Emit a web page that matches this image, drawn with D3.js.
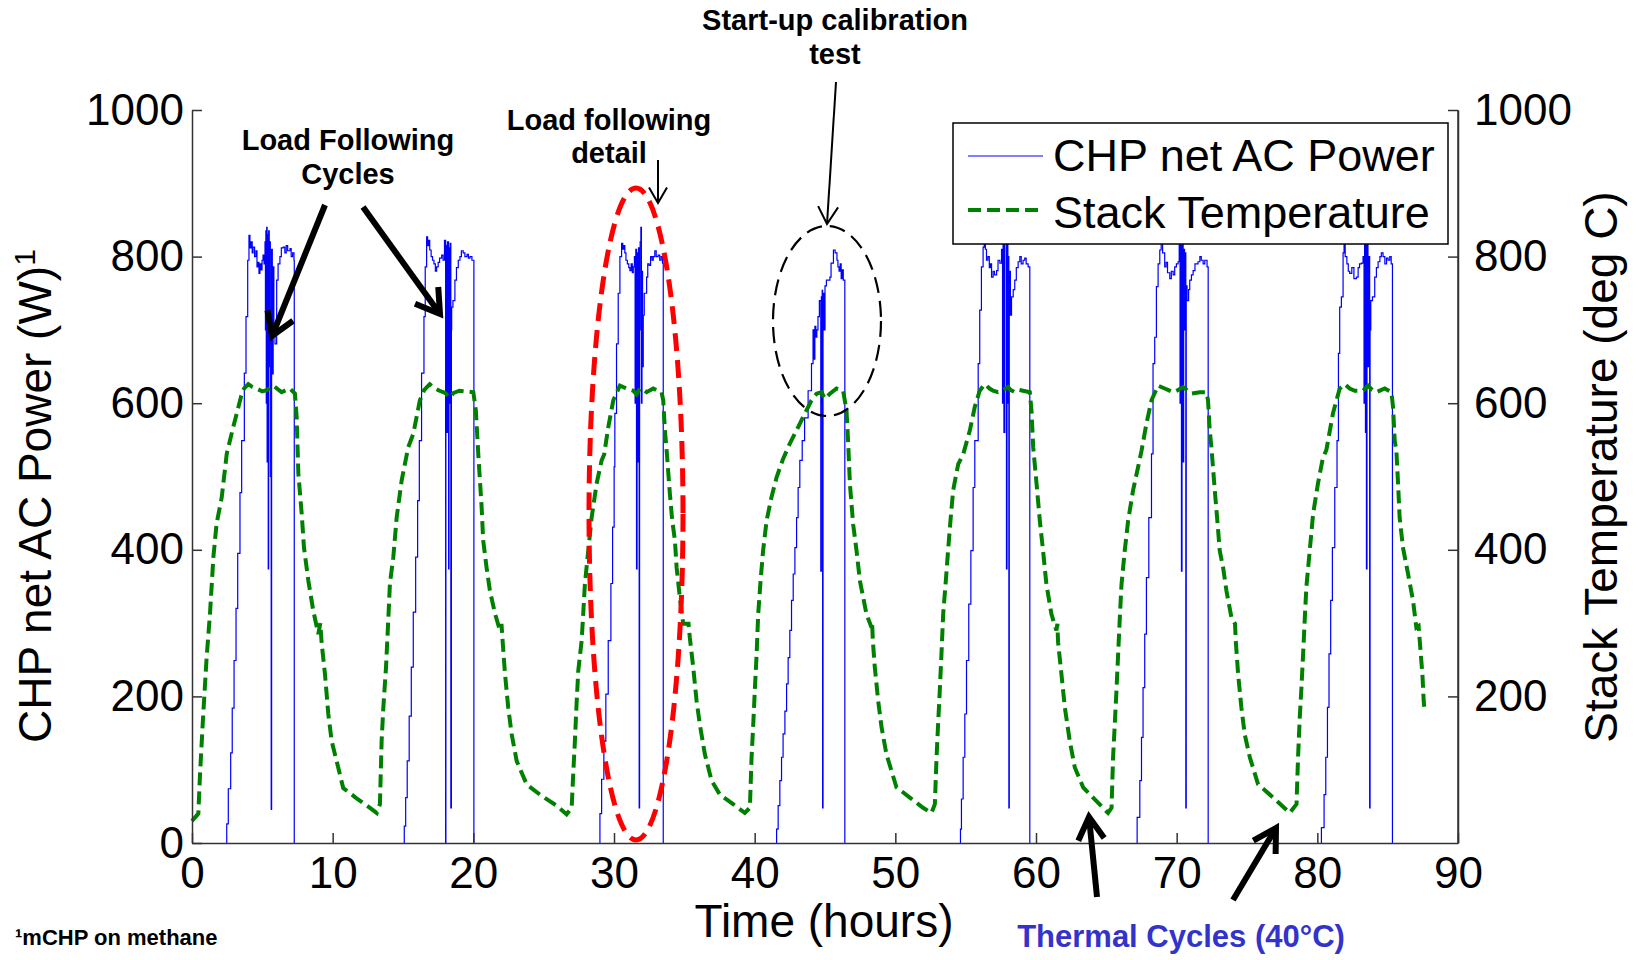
<!DOCTYPE html>
<html>
<head>
<meta charset="utf-8">
<script src="https://d3js.org/d3.v7.min.js"></script>
<style>
  body { margin: 0; background: #fff; }
  svg { font-family: "Liberation Sans", Arial, Helvetica, sans-serif; }
  .ann { font-weight: bold; }
</style>
</head>
<body>
<svg width="1641" height="960"></svg>
<script>
// ---- data (time in hours, power in W) ----
var powerC1 = [[2.47,0],[2.47,26],[2.58,74],[2.75,123],[2.86,184],[2.99,249],[3.13,320],[3.25,395],[3.41,478],[3.53,549],[3.72,641],[3.84,718],[3.96,795],[4.05,829],[4.12,812],[4.2,820],[4.28,805],[4.34,813],[4.45,800],[4.55,808],[4.62,786],[4.69,792],[4.76,777],[4.83,790],[4.9,782],[4.98,795],[5.05,802],[5.12,790],[5.19,820],[5.22,700],[5.25,835],[5.28,600],[5.31,840],[5.34,520],[5.37,830],[5.42,374],[5.45,835],[5.49,650],[5.53,820],[5.57,500],[5.63,46],[5.66,810],[5.71,640],[5.77,786],[5.82,690],[5.9,681],[6.02,768],[6.12,790],[6.25,800],[6.35,812],[6.49,813],[6.6,805],[6.7,815],[6.8,808],[6.97,811],[7.05,800],[7.15,805],[7.25,795],[7.27,0]];
var powerC2 = [[15.09,0],[15.09,23],[15.19,62],[15.3,112],[15.44,173],[15.59,240],[15.73,315],[15.9,390],[16.04,467],[16.16,549],[16.32,641],[16.49,718],[16.58,786],[16.68,827],[16.75,815],[16.82,822],[16.9,809],[17.0,800],[17.1,795],[17.2,790],[17.3,780],[17.39,786],[17.5,792],[17.6,798],[17.75,802],[17.85,795],[17.95,822],[18.03,0],[18.05,815],[18.12,560],[18.16,820],[18.24,374],[18.27,812],[18.32,600],[18.36,818],[18.4,48],[18.44,700],[18.46,731],[18.55,740],[18.69,768],[18.8,785],[18.93,795],[19.05,800],[19.15,808],[19.28,805],[19.4,800],[19.55,803],[19.65,798],[19.76,800],[19.9,795],[20.04,0]];
var powerC3 = [[29.0,0],[29.0,40],[29.12,87],[29.28,139],[29.42,203],[29.59,276],[29.78,354],[29.9,431],[30.01,513],[30.06,586],[30.18,681],[30.3,750],[30.42,800],[30.54,818],[30.62,810],[30.7,815],[30.77,805],[30.85,795],[30.95,790],[31.05,785],[31.13,781],[31.22,790],[31.3,778],[31.37,786],[31.45,800],[31.5,600],[31.55,810],[31.6,374],[31.64,805],[31.7,520],[31.74,812],[31.79,48],[31.82,700],[31.86,820],[31.91,840],[31.95,600],[31.99,780],[32.03,650],[32.08,720],[32.15,750],[32.32,772],[32.4,790],[32.5,788],[32.6,800],[32.7,795],[32.79,800],[32.9,808],[33.0,800],[33.14,802],[33.25,795],[33.35,800],[33.45,791],[33.5,0]];
var powerC4 = [[41.56,0],[41.56,19],[41.67,51],[41.79,85],[41.91,117],[42.02,149],[42.15,180],[42.27,217],[42.38,253],[42.5,290],[42.62,331],[42.74,367],[42.86,403],[42.98,444],[43.09,485],[43.21,522],[43.38,549],[43.55,580],[43.8,617],[44.04,654],[44.15,700],[44.22,660],[44.28,705],[44.35,690],[44.42,700],[44.5,718],[44.6,740],[44.7,371],[44.74,745],[44.78,600],[44.8,754],[44.83,48],[44.86,750],[44.92,700],[45.0,760],[45.1,768],[45.35,772],[45.43,791],[45.6,809],[45.72,805],[45.85,795],[45.92,786],[46.0,780],[46.08,790],[46.15,770],[46.22,782],[46.3,768],[46.41,0]];
var powerC5 = [[54.63,0],[54.63,19],[54.7,60],[54.82,117],[54.94,176],[55.06,249],[55.22,326],[55.37,399],[55.53,485],[55.65,549],[55.89,654],[56.0,727],[56.12,786],[56.24,813],[56.32,825],[56.4,810],[56.48,795],[56.58,800],[56.68,785],[56.76,790],[56.84,772],[56.95,780],[57.05,775],[57.2,781],[57.3,795],[57.43,791],[57.55,810],[57.62,600],[57.66,830],[57.72,560],[57.78,820],[57.9,374],[57.94,820],[58.0,600],[58.03,800],[58.07,48],[58.1,780],[58.18,720],[58.26,745],[58.38,755],[58.49,768],[58.6,785],[58.73,793],[58.85,800],[58.95,790],[59.08,795],[59.2,798],[59.3,790],[59.44,786],[59.56,0]];
var powerC6 = [[67.19,0],[67.19,35],[67.38,85],[67.5,144],[67.61,212],[67.73,285],[67.85,362],[68.02,444],[68.21,531],[68.32,654],[68.44,690],[68.56,759],[68.68,790],[68.8,809],[68.9,820],[69.0,805],[69.15,786],[69.25,792],[69.35,778],[69.51,770],[69.62,780],[69.75,775],[69.86,786],[69.98,790],[70.1,793],[70.18,820],[70.24,600],[70.28,815],[70.34,371],[70.38,830],[70.46,520],[70.5,810],[70.56,700],[70.6,805],[70.65,48],[70.68,760],[70.74,740],[70.85,755],[70.93,768],[71.05,775],[71.17,781],[71.3,790],[71.52,793],[71.65,800],[71.75,795],[71.88,790],[72.0,795],[72.16,786],[72.24,0]];
var powerC7 = [[80.29,0],[80.29,21],[80.48,66],[80.6,117],[80.72,185],[80.83,258],[80.95,331],[81.07,403],[81.24,485],[81.4,549],[81.5,668],[81.59,731],[81.71,745],[81.83,805],[81.9,818],[81.98,800],[82.1,790],[82.2,780],[82.3,777],[82.45,785],[82.6,770],[82.78,772],[82.9,785],[83.0,790],[83.13,791],[83.25,800],[83.32,600],[83.36,820],[83.42,560],[83.46,815],[83.49,374],[83.53,830],[83.6,650],[83.64,800],[83.72,48],[83.75,700],[83.8,740],[83.92,745],[84.08,772],[84.2,785],[84.32,793],[84.45,800],[84.55,805],[84.67,800],[84.8,790],[84.92,798],[85.03,795],[85.15,800],[85.25,790],[85.34,0]];
var powerCycles = [powerC1, powerC2, powerC3, powerC4, powerC5, powerC6, powerC7];

// stack temperature (deg C)
var stackTemp = [[0,30],[0.45,40],[0.57,94],[0.8,176],[1.04,253],[1.28,313],[1.52,390],[1.75,436],[2.11,471],[2.47,531],[2.9,565],[3.18,586],[3.5,610],[3.7,620],[4.0,626],[4.3,622],[4.6,620],[5.0,616],[5.19,617],[5.5,620],[5.78,624],[6.1,619],[6.37,615],[6.7,618],[6.97,620],[7.32,613],[7.44,581],[7.56,504],[7.8,449],[7.96,403],[8.27,358],[8.62,317],[8.98,285],[9.12,300],[9.22,272],[9.45,231],[9.69,176],[9.93,139],[10.28,112],[10.75,75],[11.7,61],[12.65,48],[13.13,41],[13.36,53],[13.48,139],[13.6,184],[13.79,239],[13.96,307],[14.07,354],[14.31,390],[14.55,444],[14.9,494],[15.37,540],[15.73,558],[16.2,604],[16.5,618],[16.9,626],[17.3,620],[17.6,617],[18.0,614],[18.3,608],[18.6,614],[19.0,617],[19.5,616],[20.0,615],[20.18,590],[20.35,531],[20.59,458],[20.7,413],[20.94,376],[21.18,344],[21.54,313],[21.89,290],[22.0,299],[22.08,276],[22.25,231],[22.48,185],[22.72,149],[23.08,112],[23.79,80],[24.73,66],[25.92,51],[26.63,39],[26.99,48],[27.1,94],[27.22,139],[27.34,190],[27.46,235],[27.7,276],[27.81,312],[27.93,353],[28.17,399],[28.41,444],[28.76,490],[29.12,522],[29.3,530],[29.59,567],[29.95,604],[30.42,624],[30.9,620],[31.37,617],[31.6,612],[31.84,620],[32.1,618],[32.32,615],[32.79,620],[33.1,617],[33.38,615],[33.5,604],[33.62,563],[33.74,536],[33.97,477],[34.14,440],[34.33,413],[34.45,376],[34.68,335],[34.92,299],[35.3,299],[35.39,280],[35.63,240],[35.87,194],[36.1,162],[36.46,121],[36.94,85],[37.53,66],[38.47,53],[39.3,41],[39.66,48],[39.78,117],[39.9,162],[40.01,208],[40.14,258],[40.25,312],[40.42,358],[40.6,399],[40.85,440],[41.2,472],[41.56,499],[42.02,524],[42.5,545],[42.98,563],[43.57,586],[44.04,604],[44.4,613],[44.75,615],[44.99,606],[45.2,610],[45.35,613],[45.82,620],[46.29,617],[46.53,590],[46.65,545],[46.77,490],[47.0,435],[47.24,399],[47.48,358],[47.95,312],[48.31,294],[48.35,301],[48.4,276],[48.54,240],[48.78,194],[49.02,158],[49.37,121],[50.08,76],[51.03,62],[51.97,48],[52.57,41],[52.81,53],[52.93,117],[53.04,162],[53.16,208],[53.28,258],[53.4,312],[53.59,358],[53.75,399],[53.92,440],[54.11,481],[54.47,517],[54.82,530],[55.3,563],[55.65,595],[56.0,617],[56.36,626],[56.7,620],[56.95,617],[57.3,615],[57.55,617],[58.02,622],[58.2,618],[58.49,615],[58.8,618],[59.08,617],[59.56,615],[59.68,590],[59.8,540],[60.04,490],[60.27,440],[60.5,399],[60.74,353],[61.1,312],[61.45,290],[61.52,299],[61.57,274],[61.81,230],[62.05,185],[62.4,139],[62.76,103],[63.35,76],[64.3,57],[65.12,41],[65.37,48],[65.48,117],[65.6,162],[65.72,208],[65.84,258],[65.96,308],[66.08,353],[66.31,399],[66.55,440],[66.9,481],[67.26,513],[67.5,535],[67.85,572],[68.21,604],[68.68,624],[69.15,620],[69.75,615],[70.1,618],[70.46,622],[70.8,617],[71.05,613],[71.64,615],[72.12,615],[72.23,604],[72.35,563],[72.47,540],[72.71,481],[72.83,454],[72.95,426],[73.06,399],[73.3,376],[73.54,344],[73.89,308],[74.15,299],[74.2,276],[74.37,230],[74.6,185],[74.84,148],[75.2,117],[75.79,80],[76.86,62],[78.04,41],[78.52,53],[78.63,117],[78.75,171],[78.87,212],[78.99,258],[79.1,303],[79.22,349],[79.46,399],[79.7,449],[80.04,490],[80.4,526],[80.64,536],[81.11,586],[81.59,620],[81.95,626],[82.3,620],[82.66,617],[83.25,617],[83.6,624],[83.9,618],[84.2,615],[84.79,620],[85.27,615],[85.38,595],[85.5,549],[85.62,535],[85.74,490],[85.85,444],[86.09,403],[86.45,367],[86.8,331],[87.04,294],[87.2,296],[87.28,276],[87.47,230],[87.56,194],[87.63,180]];

var xTicks = [0, 10, 20, 30, 40, 50, 60, 70, 80, 90];
var leftTicks = [0, 200, 400, 600, 800, 1000];
var rightTicks = [200, 400, 600, 800, 1000];

var svg = d3.select("svg");
var fontAxis = "44px";
var fmt = d3.format("d");

var x = d3.scaleLinear().domain([0, 90]).range([192, 1458]);
var y = d3.scaleLinear().domain([0, 1000]).range([843, 110]);   // power
var y2 = d3.scaleLinear().domain([0, 1000]).range([843, 110]);  // temperature

// power lines (blue)
var powerLine = d3.line()
    .x(function(d) { return x(d[0]); })
    .y(function(d) { return y(d[1]); })
    .curve(d3.curveStepAfter);

svg.append("g").selectAll("path")
  .data(powerCycles)
  .enter().append("path")
    .attr("d", powerLine)
    .attr("fill", "none")
    .attr("stroke", "#0000ff")
    .attr("stroke-width", 1.2);

// stack temperature (green dashed)
var tempLine = d3.line()
    .x(function(d) { return x(d[0]); })
    .y(function(d) { return y2(d[1]); });

svg.append("path")
  .datum(stackTemp)
  .attr("d", tempLine)
  .attr("fill", "none")
  .attr("stroke", "#008000")
  .attr("stroke-width", 4)
  .attr("stroke-dasharray", "13,6");

// axes
function styleAxis(g) {
  g.selectAll("path.domain").attr("stroke", "#333").attr("stroke-width", 1.5);
  g.selectAll(".tick line").attr("stroke", "#333").attr("stroke-width", 1.5);
  g.selectAll("text").style("font-size", fontAxis).style("font-family", "Liberation Sans, Arial, sans-serif").attr("fill", "#000");
}

svg.append("g")
  .attr("transform", "translate(0,843)")
  .call(d3.axisBottom(x).tickValues(xTicks).tickFormat(fmt).tickSize(-10).tickSizeOuter(0).tickPadding(14))
  .call(styleAxis);

svg.append("g")
  .attr("transform", "translate(192,0)")
  .call(d3.axisLeft(y).tickValues(leftTicks).tickFormat(fmt).tickSize(-10).tickSizeOuter(0).tickPadding(8))
  .call(styleAxis);

svg.append("g")
  .attr("transform", "translate(1458,0)")
  .call(d3.axisRight(y2).tickValues(rightTicks).tickFormat(fmt).tickSize(-10).tickSizeOuter(0).tickPadding(16))
  .call(styleAxis);
// right axis line down to the x axis
svg.append("line").attr("x1", 1458).attr("x2", 1458).attr("y1", 110).attr("y2", 843)
  .attr("stroke", "#333").attr("stroke-width", 1.5);

// axis titles
svg.append("text")
  .attr("transform", "translate(51,743) rotate(-90)")
  .style("font-size", "46px")
  .text("CHP net AC Power (W)")
  .append("tspan").attr("dy", -16).style("font-size", "30px").text("1");

svg.append("text")
  .attr("transform", "translate(1617,467) rotate(-90)")
  .attr("text-anchor", "middle")
  .style("font-size", "46px")
  .text("Stack Temperature (deg C)");

svg.append("text")
  .attr("x", 824).attr("y", 937)
  .attr("text-anchor", "middle")
  .style("font-size", "46px")
  .text("Time (hours)");

// ellipses
svg.append("ellipse")
  .attr("cx", 636).attr("cy", 514).attr("rx", 47).attr("ry", 326)
  .attr("fill", "none").attr("stroke", "#ff0000").attr("stroke-width", 5)
  .attr("stroke-dasharray", "18,9");

svg.append("ellipse")
  .attr("cx", 827).attr("cy", 321).attr("rx", 54).attr("ry", 95)
  .attr("fill", "none").attr("stroke", "#000").attr("stroke-width", 2.2)
  .attr("stroke-dasharray", "16,8");

// arrows
function arrow(x1, y1, x2, y2, w, len, ang) {
  var a = Math.atan2(y1 - y2, x1 - x2);
  var g = svg.append("g").attr("stroke", "#000").attr("stroke-width", w)
    .attr("fill", "none").attr("stroke-linecap", "butt");
  g.append("line").attr("x1", x1).attr("y1", y1).attr("x2", x2).attr("y2", y2);
  var p = [[x2 + len * Math.cos(a + ang), y2 + len * Math.sin(a + ang)], [x2, y2],
           [x2 + len * Math.cos(a - ang), y2 + len * Math.sin(a - ang)]];
  g.append("path").attr("d", d3.line()(p)).attr("stroke-linejoin", "miter");
}
var deg = Math.PI / 180;
arrow(325, 205, 272, 336, 6, 26, 32 * deg);
arrow(363, 207, 440, 314, 6, 27, 32 * deg);
arrow(658, 160, 658, 203, 2, 18, 30 * deg);
arrow(836, 82, 827, 224, 2, 20, 30 * deg);
arrow(1097, 897, 1089, 817, 6, 26, 30 * deg);
arrow(1233, 900, 1276, 828, 6, 26, 30 * deg);

// annotations
function label(lines, cx, y0, dy, size, color) {
  var t = svg.append("text").attr("class", "ann").attr("text-anchor", "middle")
    .style("font-size", size).style("fill", color || "#000");
  lines.forEach(function(s, i) {
    t.append("tspan").attr("x", cx).attr("y", y0 + i * dy).text(s);
  });
}
label(["Load Following", "Cycles"], 348, 150, 34, "29px");
label(["Load following", "detail"], 609, 130, 33, "29px");
label(["Start-up calibration", "test"], 835, 30, 34, "29px");
label(["Thermal Cycles (40°C)"], 1181, 947, 0, "31px", "#3333cc");

svg.append("text").attr("class", "ann")
  .attr("x", 15).attr("y", 945).style("font-size", "22px")
  .text("\u00b9mCHP on methane");

// legend
var leg = svg.append("g");
leg.append("rect").attr("x", 953).attr("y", 123).attr("width", 495).attr("height", 121)
  .attr("fill", "#fff").attr("stroke", "#000").attr("stroke-width", 1.5);
leg.append("line").attr("x1", 968).attr("x2", 1043).attr("y1", 156).attr("y2", 156)
  .attr("stroke", "#0000ff").attr("stroke-width", 1.2);
leg.append("line").attr("x1", 968).attr("x2", 1041).attr("y1", 210).attr("y2", 210)
  .attr("stroke", "#008000").attr("stroke-width", 4).attr("stroke-dasharray", "13,6");
leg.append("text").attr("x", 1053).attr("y", 171).style("font-size", "45px").text("CHP net AC Power");
leg.append("text").attr("x", 1053).attr("y", 228).style("font-size", "45px").text("Stack Temperature");
</script>
</body>
</html>
